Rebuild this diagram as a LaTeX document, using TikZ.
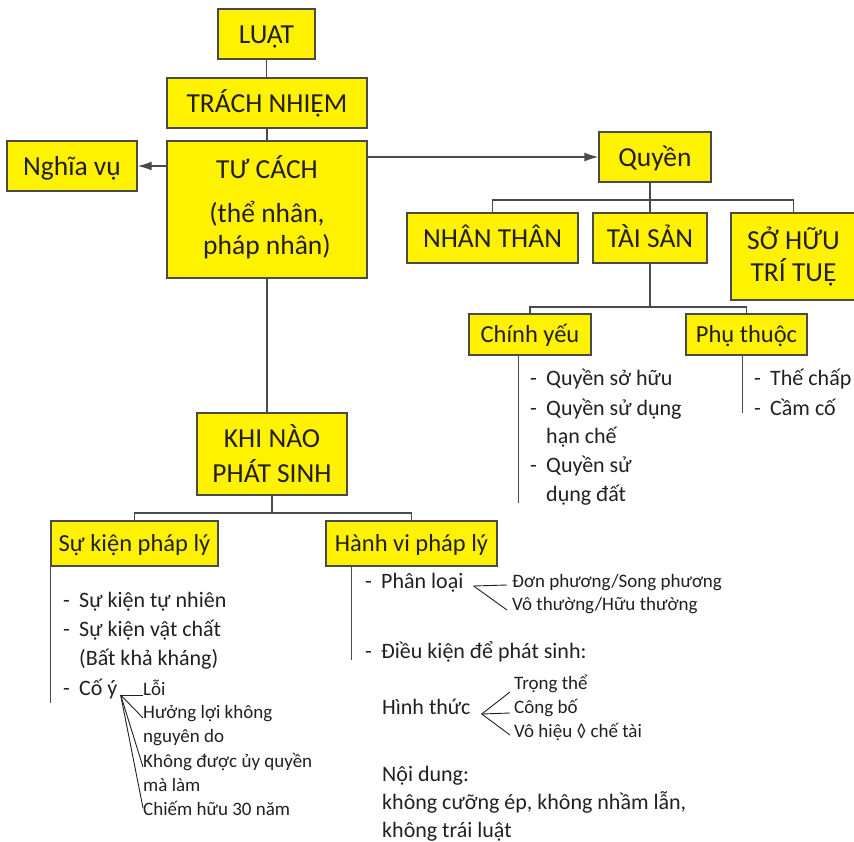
\documentclass[tikz,border=0pt]{standalone}
\usepackage{fontspec}
\setmainfont{Carlito}
\usetikzlibrary{arrows.meta}
\definecolor{boxyellow}{HTML}{FFF200}
\definecolor{ink}{HTML}{231F20}
\definecolor{rule}{HTML}{4A4A4A}
\newcommand{\lidash}{\makebox[16pt][l]{-}}

\begin{document}
\begin{tikzpicture}[>={Latex[length=14pt,width=9pt]}, x=1pt, y=-1pt,
  box/.style={draw=rule, fill=boxyellow, line width=1.3pt, text=ink, inner sep=0pt,
    font=\fontsize{27.5}{32}\selectfont, align=center},
  oneline/.style={text height=20pt, text depth=0pt},
  smallbox/.style={box, font=\fontsize{24.5}{30}\selectfont, text height=16pt, text depth=0pt},
  link/.style={rule, line width=1.3pt},
  item/.style={text=ink, inner sep=0pt, anchor=base west, font=\fontsize{22}{29}\selectfont},
  subitem/.style={item, font=\fontsize{19}{24}\selectfont},
  fork/.style={ink, line width=0.9pt}]

\useasboundingbox (0,0) rectangle (854,842);

\node[box, oneline, minimum width=97, minimum height=50] (luat) at (266.5,34) {LUẬT};
\node[box, oneline, minimum width=200, minimum height=50] (trachnhiem) at (267,103) {TRÁCH NHIỆM};
\node[box, minimum width=200, minimum height=137] (tucach) at (267,209.5) {TƯ CÁCH\\[12pt](thể nhân,\\pháp nhân)\rule[-8pt]{0pt}{8pt}};
\node[box, oneline, minimum width=130, minimum height=50] (nghiavu) at (72,166) {Nghĩa vụ};
\node[box, oneline, minimum width=112, minimum height=50] (quyen) at (655,157) {Quyền};
\node[box, oneline, minimum width=171, minimum height=50] (nhanthan) at (492.5,238) {NHÂN THÂN};
\node[box, oneline, minimum width=114, minimum height=50] (taisan) at (650,238) {TÀI SẢN};
\node[box, minimum width=125, minimum height=87] (sohuu) at (793.5,256.5) {SỞ HỮU\\TRÍ TUỆ};
\node[smallbox, minimum width=122, minimum height=41] (chinhyeu) at (530,334.5) {Chính yếu};
\node[smallbox, minimum width=121, minimum height=41] (phuthuoc) at (746.5,334.5) {Phụ thuộc};
\node[box, minimum width=150, minimum height=82] (khinao) at (272,454) {KHI NÀO\\[3pt]PHÁT SINH};
\node[smallbox, minimum width=167, minimum height=45] (sukien) at (134.5,543.5) {Sự kiện pháp lý};
\node[smallbox, minimum width=171, minimum height=45] (hanhvi) at (411.5,543.5) {Hành vi pháp lý};

\draw[link] (luat.south) -- (luat.south |- trachnhiem.north);
\draw[link] (trachnhiem) -- (tucach);
\draw[link, ->] (tucach.west |- nghiavu) -- (nghiavu.east);
\draw[link, ->] (tucach.east |- quyen) -- (quyen.west);
\draw[link] (tucach.south) -- (tucach.south |- khinao.north);

\coordinate (quyenfork) at (taisan.north |- 0,200);
\draw[link] (quyen.south -| quyenfork) -- (taisan.north);
\draw[link] (nhanthan.north) |- (quyenfork) -| (sohuu.north);

\coordinate (taisanfork) at (taisan.south |- 0,307);
\draw[link] (taisan.south) -- (taisanfork);
\draw[link] (chinhyeu.north) |- (taisanfork) -| (phuthuoc.north);

\coordinate (khinaofork) at (khinao.south |- 0,513);
\draw[link] (khinao.south) -- (khinaofork);
\draw[link] (sukien.north) |- (khinaofork) -| (hanhvi.north);

\draw[link] ([xshift=50]chinhyeu.south west) -- ++(0,147);
\draw[link] ([xshift=57]phuthuoc.south west) -- ++(0,57);
\draw[link] (sukien.south west) -- ++(0,136);
\draw[link] ([xshift=26]hanhvi.south west) -- ++(0,93);

\node[item] (quyensohuu) at (530,385) {\lidash Quyền sở hữu};
\node[item] (quyensudung) at (530,415) {\lidash Quyền sử dụng};
\node[item] (hanche) at (546,443) {hạn chế};
\node[item] (quyensu) at (530,472) {\lidash Quyền sử};
\node[item] (dungdat) at (546,501) {dụng đất};

\node[item] (thechap) at (754,385) {\lidash Thế chấp};
\node[item] (camco) at (754,415) {\lidash Cầm cố};

\node[item] (tunhien) at (63,607) {\lidash Sự kiện tự nhiên};
\node[item] (vatchat) at (63,636) {\lidash Sự kiện vật chất};
\node[item] (batkha) at (79,665) {(Bất khả kháng)};
\node[item] (coy) at (63,695) {\lidash Cố ý};

\coordinate (coyfork) at ([xshift=3]coy.base east);
\node[subitem] (loi) at (143,695) {Lỗi};
\node[subitem] (huongloi) at (143,718) {Hưởng lợi không};
\node[subitem] (nguyendo) at (143,742) {nguyên do};
\node[subitem] (khongduoc) at (143,767) {Không được ủy quyền};
\node[subitem] (malam) at (143,791) {mà làm};
\node[subitem] (chiemhuu) at (143,815) {Chiếm hữu 30 năm};
\draw[fork] (coyfork) -- (loi.base west);
\draw[fork] (coyfork) -- (huongloi.base west);
\draw[fork] (coyfork) -- (khongduoc.base west);
\draw[fork] (coyfork) -- (chiemhuu.west);

\node[item] (phanloai) at (365,588) {\lidash Phân loại};
\coordinate (phanloaifork) at ([xshift=10,yshift=2]phanloai.base east);
\node[subitem] (donphuong) at (512,587) {Đơn phương/Song phương};
\node[subitem] (vothuong) at (512,610) {Vô thường/Hữu thường};
\draw[fork] (phanloaifork) -- ([xshift=-5,yshift=2]donphuong.base west);
\draw[fork] (phanloaifork) -- ([xshift=-5]vothuong.base west);

\node[item] (dieukien) at (365,658) {\lidash Điều kiện để phát sinh:};
\node[item] (hinhthuc) at (382,714) {Hình thức};
\coordinate (hinhthucfork) at ([xshift=11]hinhthuc.base east);
\node[subitem] (trongthe) at (514,689) {Trọng thể};
\node[subitem] (congbo) at (514,713) {Công bố};
\node[subitem] (vohieu) at (514,737) {Vô hiệu ◊ chế tài};
\draw[fork] (hinhthucfork) -- ([xshift=-4,yshift=-3]trongthe.base west);
\draw[fork] (hinhthucfork) -- ([xshift=-4]congbo.base west);
\draw[fork] (hinhthucfork) -- ([xshift=-4,yshift=2]vohieu.base west);

\node[item] (noidung) at (382,781) {Nội dung:};
\node[item] (khongcuong) at (382,809) {không cưỡng ép, không nhầm lẫn,};
\node[item] (khongtrai) at (382,837) {không trái luật};

\end{tikzpicture}
\end{document}
